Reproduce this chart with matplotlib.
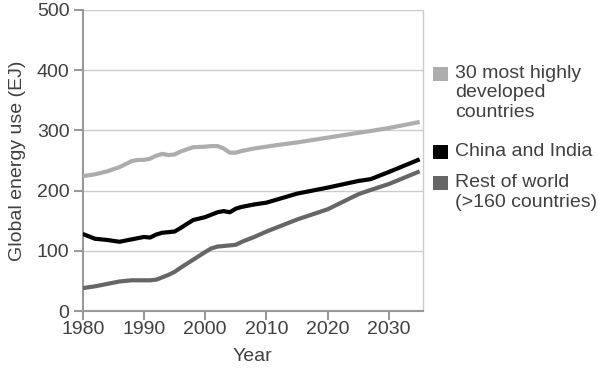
import matplotlib
matplotlib.use("Agg")
import matplotlib.pyplot as plt
from matplotlib.patches import Rectangle

years = [1980, 1982, 1984, 1986, 1988, 1989, 1990, 1991, 1992, 1993, 1994, 1995,
         1996, 1998, 2000, 2001, 2002, 2003, 2004, 2005, 2006, 2008, 2010, 2012,
         2015, 2020, 2025, 2027, 2030, 2035]
developed = [224, 227, 232, 239, 249, 251, 251, 253, 258, 261, 259, 260,
             265, 272, 273, 274, 274, 270, 263, 263, 266, 270, 273, 276,
             280, 288, 296, 299, 304, 314]
china_india = [128, 120, 118, 115, 119, 121, 123, 122, 127, 130, 131, 132,
               138, 151, 156, 160, 164, 166, 164, 170, 173, 177, 180, 186,
               195, 205, 216, 219, 231, 252]
rest_world = [38, 41, 45, 49, 51, 51, 51, 51, 52, 56, 60, 65,
              72, 85, 98, 104, 107, 108, 109, 110, 115, 123, 132, 140,
              152, 169, 194, 201, 211, 232]

labels = ["30 most highly\ndeveloped\ncountries", "China and India",
          "Rest of world\n(>160 countries)"]
colors = ["#adadad", "#000000", "#666666"]
x_ticks = [1980, 1990, 2000, 2010, 2020, 2030]
y_ticks = [0, 100, 200, 300, 400, 500]

plt.rcParams['font.family'] = ['Liberation Sans', 'DejaVu Sans']
text_color = "#404040"
fs = 14

fig = plt.figure(figsize=(5.98, 3.70), dpi=100)
ax = fig.add_axes([82.7 / 598, 1 - 311 / 370, (422.7 - 82.7) / 598, (311 - 10) / 370])

for series, c in zip([developed, china_india, rest_world], colors):
    ax.plot(years, series, color=c, lw=3.0, solid_capstyle='butt', zorder=3)

ax.set_xlim(1980, 2035.5)
ax.set_ylim(0, 500)
ax.set_xticks(x_ticks)
ax.set_yticks(y_ticks)
ax.grid(axis='y', color='#cccccc', lw=1.0, zorder=0)
ax.set_axisbelow(True)

ax.spines['top'].set_visible(False)
ax.spines['right'].set_color('#cccccc')
ax.spines['right'].set_linewidth(1.0)
for s in ['left', 'bottom']:
    ax.spines[s].set_color('#999999')
    ax.spines[s].set_linewidth(1.5)

ax.tick_params(axis='both', colors='#999999', width=1.5, length=6.5,
               labelsize=fs, labelcolor=text_color)
ax.tick_params(axis='y', pad=3)
ax.tick_params(axis='x', pad=0.5)

ax.set_xlabel("Year", fontsize=fs, color=text_color)
ax.set_ylabel("Global energy use (EJ)", fontsize=fs, color=text_color)
ax.xaxis.set_label_coords(0.5, -0.123)
ax.yaxis.set_label_coords(-0.168, 0.5)

# Legend drawn manually
square_tops = [66.7, 145, 176]
for lab, c, top in zip(labels, colors, square_tops):
    sq = Rectangle((432.7 / 598, 1 - (top + 14.3) / 370), 15 / 598, 14.3 / 370,
                   transform=fig.transFigure, facecolor=c, edgecolor='none')
    fig.patches.append(sq)
    fig.text(455 / 598, 1 - (top - 2) / 370, lab, fontsize=fs, color=text_color,
             va='top', ha='left', linespacing=1.2)

fig.savefig("out.png", dpi=100)
